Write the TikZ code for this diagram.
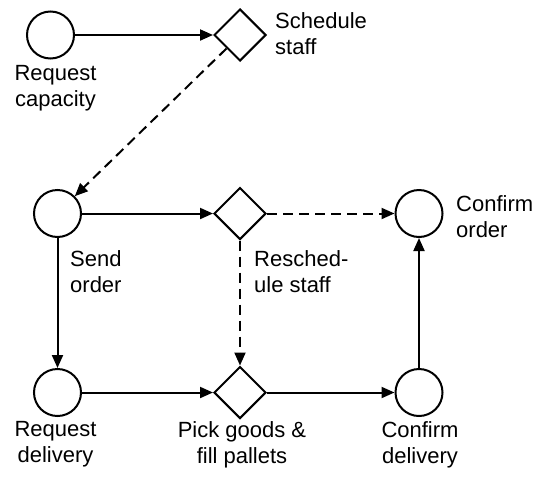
\documentclass[tikz,border=0pt]{standalone}
\usepackage{fontspec}
\setmainfont{Liberation Sans}
\usetikzlibrary{arrows.meta,shapes.geometric}

\begin{document}
\begin{tikzpicture}[x=1pt,y=-1pt,
  ev/.style={draw,circle,line width=2pt,minimum size=47pt,inner sep=0pt},
  gw/.style={draw,diamond,line width=2pt,minimum size=52pt,inner sep=0pt},
  lbl/.style={inner sep=0pt,font=\fontsize{22}{26}\selectfont},
  flow/.style={line width=2pt,-{Triangle[length=13pt,width=11pt]}},
  msg/.style={flow,dash pattern=on 10pt off 6pt}]
\useasboundingbox (0,0) rectangle (535,477);
% events and gateways
\node[ev] (rc) at (50.5,35) {};
\node[gw] (sch) at (240,35) {};
\node[ev] (so) at (57.5,213.5) {};
\node[gw] (rs) at (240,213.5) {};
\node[ev] (co) at (419,213.5) {};
\node[ev] (rd) at (57.5,392.5) {};
\node[gw] (pg) at (240,392.5) {};
\node[ev] (cd) at (419,392.5) {};
% labels
\node[lbl,anchor=north,align=center] (rcl) at (55.5,65) {Request\\capacity};
\node[lbl,anchor=north west,align=left] (schl) at (275,12) {Schedule\\staff};
\node[lbl,anchor=north west,align=left] (sol) at (70,250) {Send\\order};
\node[lbl,anchor=north west,align=left] (rsl) at (254,250) {Resched-\\ule staff};
\node[lbl,anchor=north west,align=left] (col) at (456,195) {Confirm\\order};
\node[lbl,anchor=north,align=center] (rdl) at (55.5,421) {Request\\delivery};
\node[lbl,anchor=north,align=center] (pgl) at (242,421) {Pick goods \&\\fill pallets};
\node[lbl,anchor=north,align=center] (cdl) at (420,421) {Confirm\\delivery};
% sequence flows
\draw[flow] (rc) -- (sch);
\draw[flow] (so) -- (rs);
\draw[flow] (so) -- (rd);
\draw[flow] (rd) -- (pg);
\draw[flow] (pg) -- (cd);
\draw[flow] (cd) -- (co);
% dashed flows
\draw[msg] (sch.south west) -- (so.north east);
\draw[msg] (rs) -- (co);
\draw[msg] (rs) -- (pg);
\end{tikzpicture}
\end{document}
